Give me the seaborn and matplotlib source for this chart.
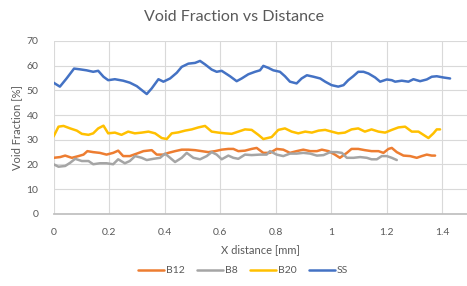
import pandas as pd
import numpy as np
import matplotlib.pyplot as plt
import seaborn as sns

# Excel-style palette
PALETTE = {"B12": "#ED7D31", "B8": "#A5A5A5", "B20": "#FFC000", "SS": "#4472C4"}
TEXT = "#595959"
GRID = "#D9D9D9"

ss_x = [0.000, 0.023, 0.047, 0.074, 0.095, 0.119, 0.143, 0.161, 0.180, 0.197, 0.221, 0.251,
        0.275, 0.300, 0.318, 0.336, 0.354, 0.378, 0.396, 0.420, 0.444, 0.462, 0.486, 0.510,
        0.528, 0.546, 0.570, 0.588, 0.606, 0.636, 0.660, 0.678, 0.702, 0.726, 0.744, 0.756,
        0.774, 0.792, 0.816, 0.834, 0.852, 0.876, 0.894, 0.913, 0.937, 0.961, 0.979, 1.002,
        1.026, 1.045, 1.062, 1.080, 1.098, 1.117, 1.135, 1.159, 1.177, 1.201, 1.219, 1.231,
        1.255, 1.279, 1.297, 1.321, 1.345, 1.363, 1.381, 1.405, 1.429]
ss_y = [53.1, 51.5, 54.8, 58.8, 58.5, 58.1, 57.5, 57.9, 55.5, 54.1, 54.5, 53.9,
        53.1, 51.7, 50.1, 48.5, 50.8, 54.5, 53.5, 54.8, 57.1, 59.5, 60.8, 61.1,
        61.9, 60.5, 58.4, 57.5, 57.9, 55.7, 53.7, 54.8, 56.5, 57.5, 58.1, 59.9,
        59.1, 58.1, 57.5, 55.7, 53.5, 52.8, 54.8, 56.1, 55.5, 54.8, 53.5, 52.1,
        51.5, 52.1, 54.1, 55.7, 57.5, 57.5, 56.8, 55.2, 53.5, 54.4, 54.1, 53.5,
        53.9, 53.5, 54.5, 53.7, 54.4, 55.5, 55.7, 55.2, 54.8]

b20_x = [0.000, 0.018, 0.036, 0.060, 0.084, 0.102, 0.126, 0.143, 0.161, 0.180, 0.197, 0.221,
         0.245, 0.269, 0.293, 0.318, 0.342, 0.366, 0.390, 0.408, 0.426, 0.450, 0.474, 0.498,
         0.522, 0.546, 0.570, 0.594, 0.618, 0.642, 0.666, 0.690, 0.714, 0.738, 0.756, 0.786,
         0.810, 0.834, 0.858, 0.882, 0.907, 0.931, 0.955, 0.979, 1.002, 1.026, 1.050, 1.074,
         1.098, 1.122, 1.146, 1.171, 1.195, 1.219, 1.243, 1.267, 1.291, 1.315, 1.333, 1.351,
         1.369, 1.381, 1.393]
b20_y = [31.3, 35.3, 35.6, 34.6, 33.7, 32.4, 32.0, 32.6, 34.6, 35.7, 32.6, 32.9,
         32.0, 33.3, 32.6, 32.9, 33.3, 32.6, 30.7, 30.3, 32.6, 33.0, 33.7, 34.2,
         35.0, 35.6, 33.3, 32.9, 32.6, 32.4, 33.3, 34.2, 34.0, 32.0, 30.3, 31.1,
         34.0, 34.6, 33.3, 32.6, 33.3, 32.9, 33.7, 34.0, 33.3, 32.6, 32.9, 34.2,
         34.6, 33.3, 34.2, 33.3, 32.9, 34.0, 35.0, 35.3, 33.3, 33.3, 32.0, 30.7,
         32.6, 34.2, 34.2]

b12_x = [0.000, 0.024, 0.042, 0.066, 0.090, 0.108, 0.122, 0.143, 0.167, 0.191, 0.215, 0.233,
         0.251, 0.275, 0.300, 0.324, 0.354, 0.372, 0.396, 0.414, 0.438, 0.462, 0.486, 0.510,
         0.534, 0.558, 0.582, 0.606, 0.630, 0.648, 0.666, 0.690, 0.714, 0.732, 0.756, 0.780,
         0.804, 0.828, 0.852, 0.876, 0.900, 0.925, 0.949, 0.967, 0.991, 1.014, 1.032, 1.057,
         1.074, 1.098, 1.122, 1.146, 1.171, 1.189, 1.207, 1.219, 1.237, 1.261, 1.285, 1.309,
         1.327, 1.345, 1.363, 1.375]
b12_y = [22.7, 23.0, 23.6, 22.7, 23.4, 24.0, 25.4, 25.0, 24.7, 24.0, 24.7, 25.6,
         23.4, 23.4, 24.4, 25.4, 25.8, 24.0, 24.0, 24.7, 25.4, 26.0, 26.0, 25.8,
         25.4, 25.0, 25.4, 26.0, 26.3, 26.3, 25.4, 25.6, 26.3, 26.7, 24.7, 24.7,
         26.3, 26.0, 24.7, 25.4, 26.0, 25.4, 25.4, 26.0, 25.4, 24.0, 22.7, 24.7,
         26.3, 26.3, 25.8, 25.4, 25.4, 24.7, 26.3, 26.7, 25.0, 23.6, 23.4, 22.7,
         23.4, 24.0, 23.6, 23.6]

b8_x = [0.000, 0.018, 0.042, 0.060, 0.078, 0.102, 0.126, 0.143, 0.167, 0.191, 0.215, 0.233,
        0.257, 0.275, 0.294, 0.318, 0.336, 0.360, 0.384, 0.402, 0.420, 0.438, 0.462, 0.480,
        0.504, 0.528, 0.552, 0.570, 0.588, 0.606, 0.630, 0.648, 0.666, 0.690, 0.714, 0.744,
        0.768, 0.780, 0.804, 0.828, 0.852, 0.876, 0.900, 0.925, 0.949, 0.973, 0.997, 1.021,
        1.039, 1.057, 1.081, 1.105, 1.129, 1.146, 1.165, 1.183, 1.201, 1.219, 1.237]
b8_y = [20.1, 19.1, 19.4, 20.7, 22.3, 21.4, 21.4, 20.1, 20.5, 20.5, 20.1, 22.1,
        20.5, 21.4, 23.4, 22.7, 21.8, 22.3, 22.7, 24.4, 22.7, 21.0, 22.7, 24.7,
        22.7, 22.1, 23.4, 25.0, 24.0, 22.1, 23.6, 22.7, 22.3, 24.0, 23.8, 24.0,
        24.0, 25.4, 24.0, 23.4, 24.4, 24.4, 24.7, 24.4, 23.6, 23.8, 25.0, 25.0,
        24.7, 22.7, 22.7, 23.0, 22.7, 22.1, 22.1, 23.4, 23.4, 22.7, 21.8]

series = [("B12", b12_x, b12_y), ("B8", b8_x, b8_y), ("B20", b20_x, b20_y), ("SS", ss_x, ss_y)]
df = pd.concat(
    [pd.DataFrame({"x": xs, "y": ys, "series": name}) for name, xs, ys in series],
    ignore_index=True,
)

sns.set_theme(style="white")
plt.rcParams["font.family"] = ["Lato", "DejaVu Sans"]

fig = plt.figure(figsize=(4.67, 2.86), dpi=100)
ax = fig.add_axes([0.1146, 0.252, 0.8854, 0.605])

sns.lineplot(data=df, x="x", y="y", hue="series", palette=PALETTE,
             linewidth=1.8, sort=False, ax=ax, legend=False)

ax.set_xlim(0, 1.49)
ax.set_ylim(0, 70)
ax.set_xticks(np.arange(0, 1.41, 0.2))
ax.set_xticklabels(["0", "0.2", "0.4", "0.6", "0.8", "1", "1.2", "1.4"])
ax.set_yticks(range(0, 71, 10))
ax.grid(True, color=GRID, linewidth=0.8)
for s in ["top", "right", "left"]:
    ax.spines[s].set_visible(False)
ax.spines["bottom"].set_color("#BFBFBF")
ax.tick_params(axis="x", colors=TEXT, labelsize=7.5, length=0, pad=10)
ax.tick_params(axis="y", colors=TEXT, labelsize=7.5, length=0, pad=11)

ax.set_xlabel("X distance [mm]", color=TEXT, fontsize=8, labelpad=5)
ax.set_ylabel("Void Fraction [%]", color=TEXT, fontsize=8, labelpad=3)
fig.suptitle("Void Fraction vs Distance", color=TEXT, fontsize=11.5, y=0.965)

handles = [plt.Line2D([], [], color=PALETTE[n], linewidth=1.8) for n, _, _ in series]
fig.legend(handles, [n for n, _, _ in series], loc="lower center", ncol=4,
           bbox_to_anchor=(0.52, 0.005), frameon=False, fontsize=7.5,
           handlelength=2.5, handletextpad=0.15, columnspacing=1.2, labelcolor=TEXT)

fig.savefig("out.png", dpi=100)
